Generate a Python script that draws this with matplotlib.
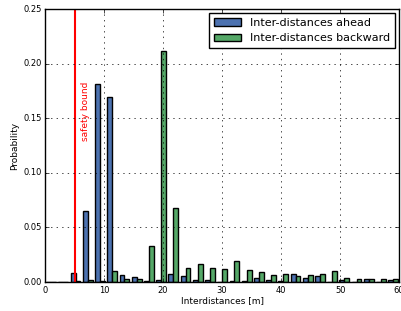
import numpy as np
import matplotlib
matplotlib.use("Agg")
import matplotlib.pyplot as plt

plt.style.use('classic')

# histogram bins (30 bins of ~2.07 m starting at 0)
bin_edges = np.linspace(0, 62.1, 31)
bin_centers = 0.5 * (bin_edges[:-1] + bin_edges[1:])

# probability density
ahead = [0.0, 0.0, 0.0082, 0.065, 0.181, 0.1697, 0.0067, 0.0049, 0.0012, 0.0018,
         0.007, 0.0055, 0.002, 0.002, 0.0, 0.001, 0.001, 0.0037, 0.0018, 0.001,
         0.0076, 0.0034, 0.0052, 0.0, 0.0018, 0.0005, 0.0027, 0.0, 0.0021, 0.0]
backward = [0.0, 0.0, 0.001, 0.0016, 0.001, 0.0104, 0.003, 0.0027, 0.0332, 0.212,
            0.068, 0.0125, 0.017, 0.0125, 0.012, 0.019, 0.011, 0.0089, 0.0061, 0.0073,
            0.0052, 0.0067, 0.0073, 0.0104, 0.0034, 0.0024, 0.0027, 0.003, 0.003, 0.0]

safety = 5

fig = plt.figure(figsize=(4.02, 3.11), dpi=100, facecolor='white')
ax = fig.add_axes([0.112, 0.093, 0.881, 0.878])

ax.hist([bin_centers, bin_centers], bins=bin_edges, weights=[ahead, backward],
        color=['#4C72B0', '#55A868'], edgecolor='black', linewidth=1.0,
        label=['Inter-distances ahead', 'Inter-distances backward'])

ax.axvline(safety, color='red', linewidth=1.5)
ax.text(6.8, 0.156, 'safety bound', color='red', rotation=90,
        ha='center', va='center', fontsize=6.5)

ax.set_xlim(0, 60)
ax.set_ylim(0, 0.25)
ax.set_xticks([0, 10, 20, 30, 40, 50, 60])
ax.set_yticks([0.0, 0.05, 0.10, 0.15, 0.20, 0.25])
ax.tick_params(labelsize=6, length=3, pad=2.5)
ax.grid(True, color='black', linestyle=':', linewidth=0.5)
ax.set_xlabel('Interdistances [m]', fontsize=6.5, labelpad=1)
ax.set_ylabel('Probability', fontsize=6.5, labelpad=3)

ax.legend(loc='upper right', fontsize=8, handlelength=2.5, borderaxespad=0.4)

fig.savefig('out.png', dpi=100, facecolor='white')
